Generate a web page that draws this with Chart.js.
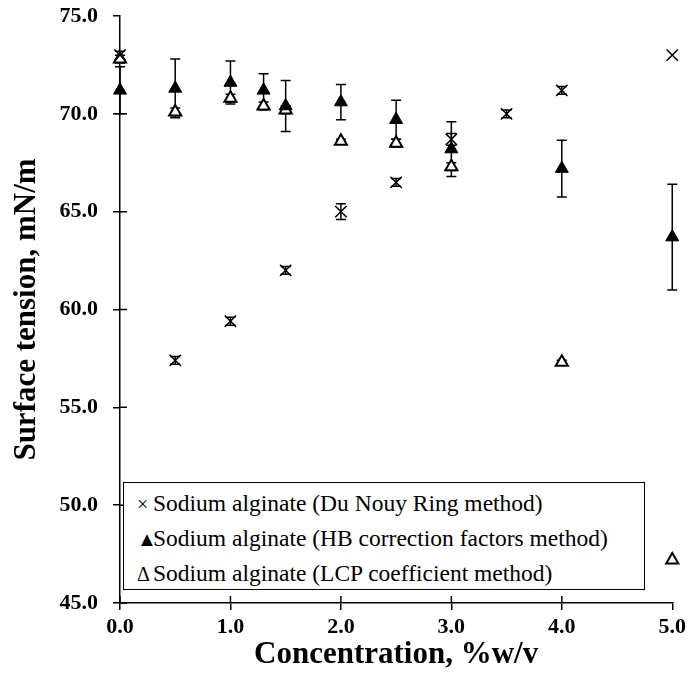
<!DOCTYPE html>
<html>
<head>
<meta charset="utf-8">
<script src="https://cdn.jsdelivr.net/npm/chart.js@4.4.0/dist/chart.umd.min.js"></script>
<style>
  html, body { margin: 0; padding: 0; background: #fff; }
  #wrap { position: relative; width: 690px; height: 674px; }
  #legend {
    position: absolute; left: 123px; top: 482px; width: 522px; height: 108px;
    border: 1.5px solid #000; box-sizing: border-box; background: #fff;
    font-family: "Liberation Serif", serif; font-size: 23.5px; line-height: 34px;
    padding: 3px 0 0 13px; color: #000; white-space: nowrap;
  }
  #legend span { display: inline-block; width: 16px; font-size: 20px; }
</style>
</head>
<body>
<div id="wrap">
  <canvas id="chart" width="690" height="674"></canvas>
  <div id="legend"></div>
</div>
<script>
// Du Nouy ring
const concRing = [0, 0.5, 1.0, 1.5, 2.0, 2.5, 3.0, 3.5, 4.0, 5.0];
const ringValues = [73.0, 57.4, 59.4, 62.0, 65.0, 66.5, 68.7, 70.0, 71.2, 73.0];
const ringErrors = [0.2, 0.2, 0.2, 0.2, 0.4, 0.2, 0.3, 0.2, 0.2, 0];

// HB correction factors and LCP coefficient share the same concentrations
const concHB = [0, 0.5, 1.0, 1.3, 1.5, 2.0, 2.5, 3.0, 4.0, 5.0];
const hbValues = [71.2, 71.3, 71.6, 71.2, 70.4, 70.6, 69.7, 68.2, 67.2, 63.7];
const hbErrors = [1.2, 1.5, 1.1, 0.85, 1.3, 0.9, 1.0, 1.4, 1.45, 2.7];
const lcpValues = [72.8, 70.1, 70.8, 70.4, 70.2, 68.6, 68.5, 67.3, 57.3, 47.2];
const lcpErrors = [0.2, 0.2, 0.2, 0.2, 0.2, 0.1, 0.2, 0.2, 0.1, 0];

const xTicks = [0, 1, 2, 3, 4, 5];
const yTicks = [45, 50, 55, 60, 65, 70, 75];
const seriesLabels = [
  'Sodium alginate (Du Nouy Ring method)',
  'Sodium alginate (HB correction factors method)',
  'Sodium alginate (LCP coefficient method)'
];
const legendSymbols = ['\u00D7', '\u25B2', '\u0394'];

const FONT = '"Liberation Serif", "Times New Roman", serif';
const TICK = 7;

function toPoints(xs, ys, errs) {
  return xs.map((x, i) => ({ x: x, y: ys[i], err: errs[i] }));
}

// error bars drawn through the chart's scales, under the markers
const errorBars = {
  id: 'errorBars',
  beforeDatasetsDraw(chart) {
    const { ctx, scales: { x, y } } = chart;
    ctx.save();
    ctx.strokeStyle = '#000';
    ctx.lineWidth = 1.5;
    chart.data.datasets.forEach(ds => {
      ds.data.forEach(p => {
        if (!p.err) return;
        const px = x.getPixelForValue(p.x);
        const top = y.getPixelForValue(p.y + p.err);
        const bot = y.getPixelForValue(p.y - p.err);
        ctx.beginPath();
        ctx.moveTo(px, top); ctx.lineTo(px, bot);
        ctx.moveTo(px - 5, top); ctx.lineTo(px + 5, top);
        ctx.moveTo(px - 5, bot); ctx.lineTo(px + 5, bot);
        ctx.stroke();
      });
    });
    ctx.restore();
  },
  // tick marks cross the axes, so add the inner half
  afterDraw(chart) {
    const { ctx, chartArea: a, scales: { x, y } } = chart;
    ctx.save();
    ctx.strokeStyle = '#000';
    ctx.lineWidth = 1.5;
    ctx.beginPath();
    yTicks.forEach(v => {
      if (v === 75) return;
      const py = y.getPixelForValue(v);
      ctx.moveTo(a.left, py); ctx.lineTo(a.left + TICK, py);
    });
    xTicks.forEach(v => {
      if (v === 5) return;
      const px = x.getPixelForValue(v);
      ctx.moveTo(px, a.bottom); ctx.lineTo(px, a.bottom - TICK);
    });
    ctx.stroke();
    ctx.restore();
  }
};

new Chart(document.getElementById('chart'), {
  type: 'scatter',
  data: {
    datasets: [
      {
        label: seriesLabels[0],
        data: toPoints(concRing, ringValues, ringErrors),
        pointStyle: 'crossRot',
        pointRadius: 8,
        borderColor: '#000',
        borderWidth: 1.5,
        clip: false
      },
      {
        label: seriesLabels[1],
        data: toPoints(concHB, hbValues, hbErrors),
        pointStyle: 'triangle',
        pointRadius: 7.5,
        backgroundColor: '#000',
        borderColor: '#000',
        borderWidth: 1,
        clip: false
      },
      {
        label: seriesLabels[2],
        data: toPoints(concHB, lcpValues, lcpErrors),
        pointStyle: 'triangle',
        pointRadius: 7,
        backgroundColor: '#fff',
        borderColor: '#000',
        borderWidth: 2,
        clip: false
      }
    ]
  },
  options: {
    responsive: false,
    animation: false,
    layout: { padding: { top: 16, right: 17, left: 0, bottom: 0 } },
    plugins: {
      legend: { display: false },
      tooltip: { enabled: false }
    },
    scales: {
      x: {
        type: 'linear',
        min: 0,
        max: 5,
        afterBuildTicks: (s) => { s.ticks = xTicks.map(v => ({ value: v })); },
        afterFit: (s) => { s.height = 71; },
        ticks: {
          color: '#000',
          font: { family: FONT, size: 22, weight: 'bold' },
          padding: 4,
          maxRotation: 0,
          callback: (v) => v.toFixed(1)
        },
        grid: { drawOnChartArea: false, color: '#000', lineWidth: 1.5, tickLength: TICK },
        border: { color: '#000', width: 1.5 },
        title: {
          display: true,
          text: 'Concentration, %w/v',
          color: '#000',
          font: { family: FONT, size: 31, weight: 'bold' },
          padding: { top: 0, bottom: 0 }
        }
      },
      y: {
        min: 45,
        max: 75,
        afterBuildTicks: (s) => { s.ticks = yTicks.map(v => ({ value: v })); },
        afterFit: (s) => {
          s.width = 120;
          s.paddingTop = 10;
          s.paddingBottom = 10;
        },
        ticks: {
          color: '#000',
          font: { family: FONT, size: 22, weight: 'bold' },
          padding: 15,
          callback: (v) => v.toFixed(1)
        },
        grid: { drawOnChartArea: false, color: '#000', lineWidth: 1.5, tickLength: TICK },
        border: { color: '#000', width: 1.5 },
        title: {
          display: true,
          text: 'Surface tension, mN/m',
          color: '#000',
          font: { family: FONT, size: 31, weight: 'bold' },
          padding: { top: 8, bottom: 0 }
        }
      }
    }
  },
  plugins: [errorBars]
});

document.getElementById('legend').innerHTML = seriesLabels
  .map((t, i) => `<div><span>${legendSymbols[i]}</span>${t}</div>`).join('');
</script>
</body>
</html>
